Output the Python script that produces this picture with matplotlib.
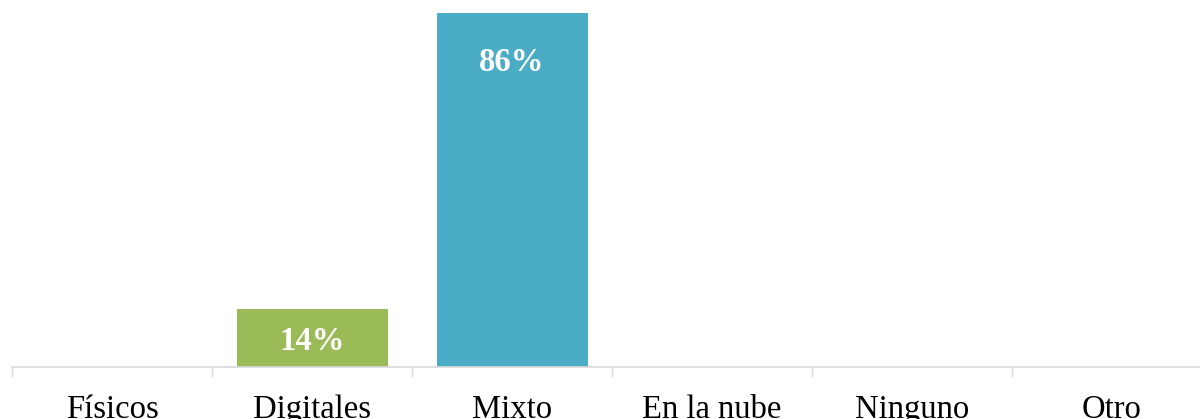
import matplotlib
matplotlib.use("Agg")
import matplotlib.pyplot as plt
import numpy as np

# Chart data
categories = ["Físicos", "Digitales", "Mixto", "En la nube", "Ninguno", "Otro"]
values = [0, 14, 86, 0, 0, 0]
bar_colors = ["#9BBB59", "#9BBB59", "#4BACC6", "#4BACC6", "#4BACC6", "#4BACC6"]

plt.rcParams["font.family"] = ["Liberation Serif", "DejaVu Serif"]

fig = plt.figure(figsize=(12, 4.19), dpi=100)
# axes extends slightly past the right edge, like the original crop
ax = fig.add_axes([12 / 1200, 52 / 419, 1200 / 1200, 367 / 419])

x = np.arange(len(categories))
ax.bar(x, values, width=0.755, color=bar_colors, zorder=2)

for xi, v in zip(x, values):
    if v <= 0:
        continue
    ypos = max(v / 2, v - 11.2) - 0.7
    ax.text(xi, ypos, f"{v}%", ha="center", va="center",
            color="white", fontsize=23.5, fontweight="bold")

ax.set_xlim(-0.5, len(categories) - 0.5)
ax.set_ylim(0, 89.2)

# boundary ticks (unlabelled) and centred labels
ax.set_xticks(np.arange(len(categories) + 1) - 0.5)
ax.set_xticklabels([])
ax.set_xticks(x, minor=True)
ax.set_xticklabels(categories, minor=True, fontsize=23.5)
ax.tick_params(axis="x", which="major", length=7, width=1.0, color="#D9D9D9")
ax.tick_params(axis="x", which="minor", length=0, pad=20)
ax.set_yticks([])

for side in ["top", "right", "left"]:
    ax.spines[side].set_visible(False)
ax.spines["bottom"].set_color("#D9D9D9")
ax.spines["bottom"].set_linewidth(1.2)

fig.savefig("out.png", dpi=100)
